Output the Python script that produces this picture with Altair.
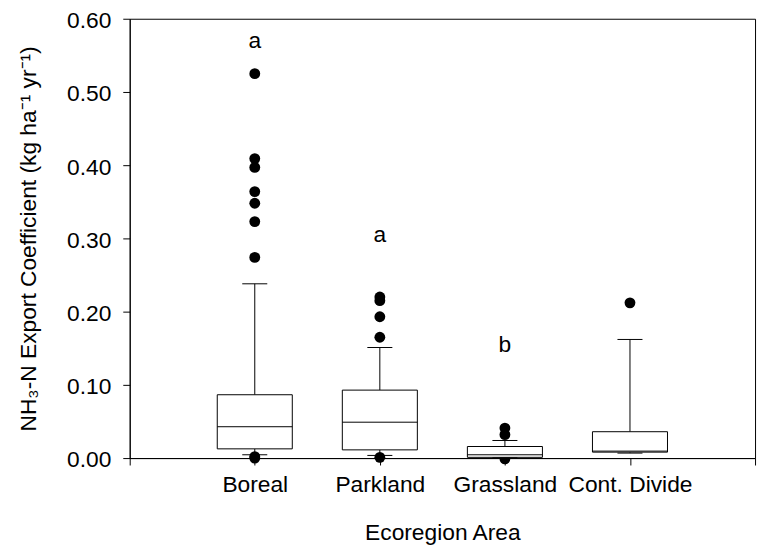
import altair as alt
import pandas as pd

categories = ["Boreal", "Parkland", "Grassland", "Cont. Divide"]
positions = [1, 2, 3, 4]
q1 = [0.0126, 0.0112, 0.0010, 0.0081]
median = [0.0428, 0.0490, 0.0045, 0.0095]
q3 = [0.0865, 0.0928, 0.0158, 0.0360]
whisker_low = [0.0045, 0.0036, 0.0010, 0.0068]
whisker_high = [0.238, 0.151, 0.024, 0.162]

outliers_boreal = [0.525, 0.409, 0.397, 0.364, 0.348, 0.323, 0.274, 0.002, 0.000]
outliers_parkland = [0.220, 0.215, 0.193, 0.165, 0.001]
outliers_grassland = [0.041, 0.032, -0.001]
outliers_contdivide = [0.212]

letters = ["a", "a", "b"]
letter_pos = [1, 2, 3]
letter_y = [0.569, 0.304, 0.154]

FONT = "Liberation Sans"
FS = 23

stats = pd.DataFrame({
    "cat": categories, "pos": positions, "q1": q1, "median": median,
    "q3": q3, "wlo": whisker_low, "whi": whisker_high,
})
out_rows = []
for p, vals in zip(positions, [outliers_boreal, outliers_parkland,
                               outliers_grassland, outliers_contdivide]):
    for v in vals:
        out_rows.append({"pos": p, "v": v})
outs = pd.DataFrame(out_rows)
lets = pd.DataFrame({"pos": letter_pos, "txt": letters, "y": letter_y})

xscale = alt.Scale(domain=[0, 5], nice=False, zero=False)
yscale = alt.Scale(domain=[0, 0.6], nice=False)

name_expr = ("datum.value == 1 ? 'Boreal' : datum.value == 2 ? 'Parkland' : "
             "datum.value == 3 ? 'Grassland' : datum.value == 4 ? 'Cont. Divide' : ''")

xaxis = alt.Axis(values=[0, 1, 2, 3, 4, 5], labelExpr=name_expr, grid=False,
                 title="Ecoregion Area", tickSize=7, labelPadding=9,
                 titlePadding=25, labelFlush=False)
yaxis = alt.Axis(values=[0, 0.1, 0.2, 0.3, 0.4, 0.5, 0.6], format=".2f", grid=False,
                 title="NH₃-N Export Coefficient (kg ha⁻¹ yr⁻¹)", tickSize=7,
                 labelPadding=12, titlePadding=26, labelOffset=2, labelFlush=False)

base = alt.Chart(stats)

whisk_up = base.mark_rule(color="black", strokeWidth=1).encode(
    x=alt.X("pos:Q", scale=xscale, axis=xaxis),
    y=alt.Y("q3:Q", scale=yscale, axis=yaxis),
    y2="whi:Q",
)
whisk_dn = base.mark_rule(color="black", strokeWidth=1).encode(
    x=alt.X("pos:Q", scale=xscale),
    y=alt.Y("wlo:Q", scale=yscale),
    y2="q1:Q",
)
cap_hi = base.transform_calculate(a="datum.pos - 0.1", b="datum.pos + 0.1").mark_rule(
    color="black", strokeWidth=1).encode(
    x=alt.X("a:Q", scale=xscale), x2="b:Q", y=alt.Y("whi:Q", scale=yscale))
cap_lo = base.transform_calculate(a="datum.pos - 0.1", b="datum.pos + 0.1").mark_rule(
    color="black", strokeWidth=1).encode(
    x=alt.X("a:Q", scale=xscale), x2="b:Q", y=alt.Y("wlo:Q", scale=yscale))

pts = alt.Chart(outs).mark_circle(color="black", opacity=1, size=120).encode(
    x=alt.X("pos:Q", scale=xscale), y=alt.Y("v:Q", scale=yscale))

box = base.transform_calculate(a="datum.pos - 0.3", b="datum.pos + 0.3").mark_rect(
    fill="white", stroke="black", strokeWidth=1).encode(
    x=alt.X("a:Q", scale=xscale), x2="b:Q",
    y=alt.Y("q1:Q", scale=yscale), y2="q3:Q")
med = base.transform_calculate(a="datum.pos - 0.3", b="datum.pos + 0.3").mark_rule(
    color="black", strokeWidth=1).encode(
    x=alt.X("a:Q", scale=xscale), x2="b:Q", y=alt.Y("median:Q", scale=yscale))

txt = alt.Chart(lets).mark_text(font=FONT, fontSize=FS, color="black",
                                baseline="middle", align="center").encode(
    x=alt.X("pos:Q", scale=xscale), y=alt.Y("y:Q", scale=yscale), text="txt:N")

chart = alt.layer(whisk_up, whisk_dn, cap_hi, cap_lo, pts, box, med, txt).properties(
    width=632, height=444,
    background="white",
    autosize=alt.AutoSizeParams(type="none"),
    padding={"left": 123, "top": 8, "right": 4, "bottom": 86},
).configure_view(stroke="black", strokeWidth=1).configure_axis(
    labelFont=FONT, labelFontSize=FS, labelColor="black",
    titleFont=FONT, titleFontSize=FS, titleColor="black", titleFontWeight="normal",
    tickColor="black", domainColor="black", tickWidth=1, domainWidth=1,
)

chart.save("out.html", embed_options={"renderer": "svg", "actions": False})
